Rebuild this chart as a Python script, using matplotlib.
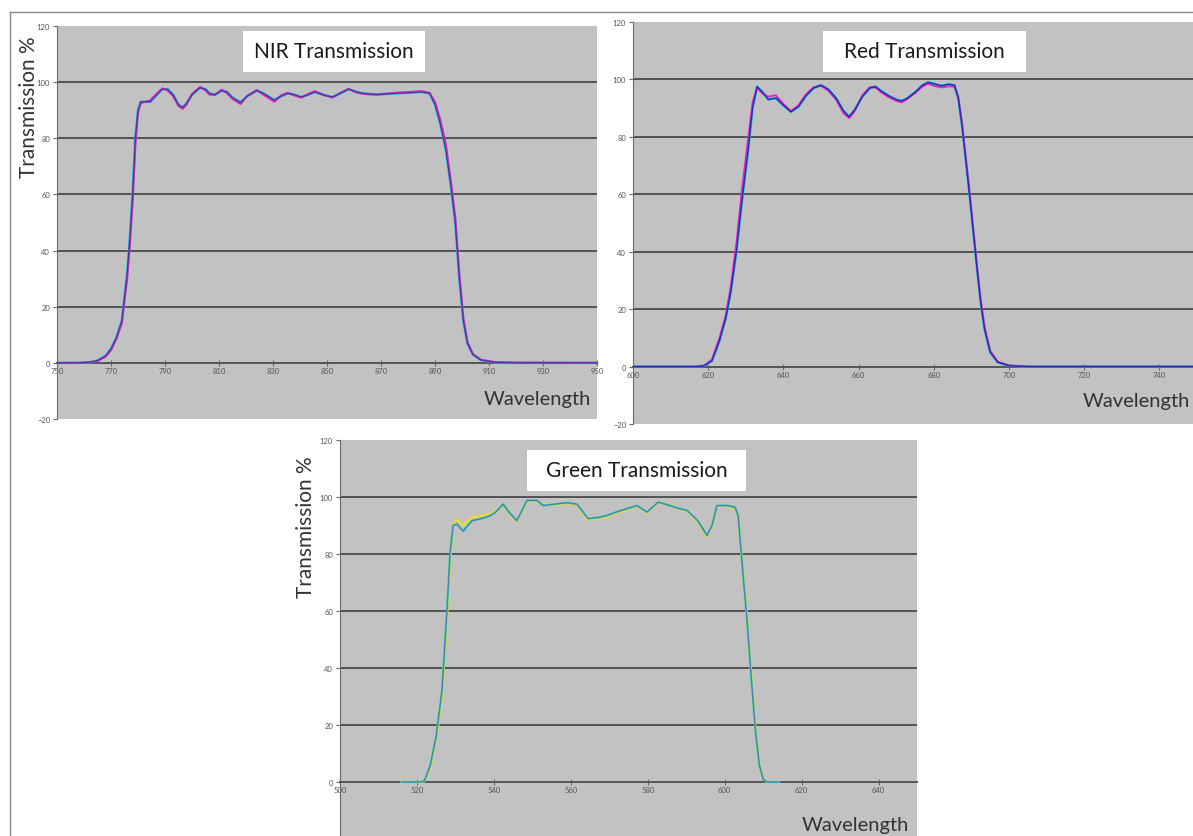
import numpy as np
import matplotlib.pyplot as plt
from matplotlib.patches import Rectangle
from matplotlib.lines import Line2D

plt.rcParams['font.family'] = ['Lato', 'DejaVu Sans']

# NIR filter, two overlapping measurements
nir_nm = [750, 758, 762, 765, 768, 770, 772, 774, 776, 777,
          778, 779, 780, 781, 782.5, 784.5, 786.5, 789, 791, 793, 795,
          796.5, 798, 800, 803, 805, 806.5, 808.5, 811, 813, 815,
          818, 820.5, 824, 826.5, 830.5, 833, 835.5, 838, 840.5, 843,
          845.5, 848.5, 852, 855, 858, 861, 863.5, 866, 868.5, 872,
          876, 880, 885, 888, 890, 892, 894, 896, 897.5, 899,
          900.5, 902, 904, 907, 912, 920, 950]
nir_a = [0, 0, 0.2, 0.8, 2.5, 5, 9, 15, 32, 45,
         60, 80, 90, 93, 93, 93, 95, 97.5, 97.5, 95.5, 92,
         91, 92.5, 95.5, 98, 97.5, 96, 95.5, 97, 96.5, 94.5,
         92.8, 95, 97, 96, 93.6, 95, 96, 95.5, 94.7, 95.5,
         96.5, 95.5, 94.7, 96, 97.5, 96.5, 96, 95.8, 95.6, 95.8,
         96, 96.2, 96.5, 96, 92, 85, 76, 62, 50, 30,
         15, 7, 3, 1, 0.2, 0, 0]
nir_b = [0, 0, 0.2, 0.7, 2.2, 4.5, 8.5, 14, 30, 42,
         57, 77, 89, 92.5, 93, 93.5, 95.5, 97.8, 97, 95, 91.5,
         90.5, 92, 95.8, 98.3, 97, 95.5, 95.5, 97.3, 96, 94,
         92.2, 95.2, 97.2, 95.5, 93, 95.3, 96.2, 95.2, 94.5, 95.8,
         96.8, 95.5, 94.5, 96.2, 97.6, 96.3, 95.8, 95.6, 95.5, 95.9,
         96.3, 96.5, 96.8, 96.2, 93, 86.5, 78, 64, 52, 32,
         16, 7.5, 3.2, 1.1, 0.3, 0.1, 0]

# Red filter
red_nm = [600, 612, 617, 619, 621, 623, 624.7, 626, 627.5, 629,
          630.5, 631.8, 633, 634.5, 636, 638, 640, 642, 644, 646,
          648, 650, 652, 654, 656, 657.5, 659, 661, 663, 664.5,
          666, 668, 670, 671.5, 673, 675, 677, 678.5, 680, 682,
          684, 685.5, 686.5, 687.5, 688.5, 689.5, 690.5, 691.5, 692.5, 693.5,
          695, 697, 700, 705, 750]
red_a = [0, 0, 0, 0.3, 2, 9, 17, 26, 40, 58,
         74, 90, 97.5, 95.5, 93, 93.5, 91, 88.7, 90.5, 94.3,
         97, 98, 96.5, 93.5, 89, 87, 89.5, 94, 97, 97.5,
         96, 94.3, 93, 92.5, 93.5, 95.5, 98, 99, 98.5, 97.8,
         98.3, 98, 93.5, 84, 72, 60, 47, 34, 22, 13,
         5, 1.5, 0.3, 0, 0]
red_b = [0, 0, 0, 0.4, 2.5, 10, 18, 28, 43, 62,
         78, 92, 97, 95, 94, 94.5, 91.5, 89, 91, 94.8,
         97.3, 97.8, 96, 93, 88.2, 86.5, 89, 94.5, 97.3, 97.2,
         95.5, 93.8, 92.5, 92, 93.2, 95.2, 97.5, 98.5, 97.8, 97.2,
         97.6, 97.5, 94, 85, 73, 61, 48, 35, 23, 14,
         5.5, 1.7, 0.4, 0, 0]

# Green filter
grn_nm = [516, 521, 522, 523.5, 525, 526.5, 527.8, 528.6, 529.4, 530.4,
          532, 534.3, 537, 539, 540.3, 542.4, 544, 546, 548.6, 551.2,
          552.8, 556.4, 559, 561.6, 563, 564.5, 567, 569.4, 572, 574.6,
          577.2, 579.8, 582.7, 585.8, 588, 590.2, 593, 595.4, 596.7, 598,
          600.6, 602.7, 603.5, 604.8, 605.8, 607, 608, 609, 610, 611,
          614]
grn_a = [0, 0, 0.5, 6, 16, 32, 60, 80, 90, 90.5,
         88, 91.7, 92.5, 93.4, 94.5, 97.5, 94.5, 91.7, 98.8, 98.8,
         97, 97.6, 98, 97.5, 95, 92.4, 92.8, 93.5, 94.8, 95.9,
         97, 94.7, 98.2, 97, 96, 95.3, 91.7, 86.5, 89.9, 97,
         97, 96.4, 93.5, 72.5, 57, 35, 18, 6, 1, 0,
         0]
grn_b = [0, 0, 0.4, 5, 15, 30, 57, 78, 90.5, 92,
         90, 93, 93.5, 94, 95, 97.2, 94, 91.5, 98.5, 98.5,
         97.3, 97.2, 97.8, 97.2, 94.5, 92, 92.5, 93, 94.5, 95.5,
         96.8, 94.5, 98, 97.2, 95.8, 95, 91.2, 86, 89.5, 96.8,
         96.8, 96, 93, 73, 58, 36, 19, 6.5, 1.2, 0,
         0]

W, H = 1193, 837
fig = plt.figure(figsize=(W / 100, H / 100), dpi=100)


def fx(x):
    return x / W


def fy(y):
    return 1 - y / H


def px_box(x0, y0, x1, y1):
    return [fx(x0), fy(y1), (x1 - x0) / W, (y1 - y0) / H]


def panel(box, nm, series, colors, widths, xlim, xticks):
    ax = fig.add_axes(box)
    ax.set_facecolor('#c2c2c2')
    for g in (20, 40, 60, 80, 100):
        ax.axhline(g, color='#4a4a4a', lw=1.3, zorder=1)
    for vals, c, lw in zip(series, colors, widths):
        ax.plot(nm, vals, color=c, lw=lw, zorder=3)
    ax.set_xlim(*xlim)
    ax.set_ylim(-20, 120)
    ax.set_yticks(range(-20, 121, 20))
    ax.set_xticks(xticks)
    ax.spines['bottom'].set_position(('data', 0))
    ax.spines['bottom'].set_color('#555555')
    ax.spines['bottom'].set_linewidth(1.4)
    ax.spines['left'].set_color('#6a6a6a')
    ax.spines['top'].set_visible(False)
    ax.spines['right'].set_visible(False)
    ax.tick_params(axis='y', direction='out', length=3, width=0.8, color='#6a6a6a',
                   labelsize=5.5, labelcolor='#555555', pad=2)
    ax.tick_params(axis='x', direction='inout', length=4, width=0.8, color='#6a6a6a',
                   labelsize=5.5, labelcolor='#555555', pad=1)
    return ax


panel(px_box(57, 27, 597, 420), nir_nm, [nir_a, nir_b, nir_a],
      ['#00c8d8', '#e020c0', '#4a3aa0'], [1.8, 1.4, 0.9],
      (750, 950), range(750, 951, 20))
panel(px_box(633, 23, 1197, 425), red_nm, [red_a, red_b, red_a],
      ['#00c8d8', '#e020c0', '#2a2ab0'], [1.8, 1.3, 1.0],
      (600, 750), range(600, 741, 20))
panel(px_box(340, 441, 917, 840), grn_nm, [grn_b, grn_a, grn_a],
      ['#e8d840', '#30c8c8', '#4a7aa0'], [1.8, 1.5, 0.7],
      (500, 650), range(500, 641, 20))

# title boxes
titles = [('NIR Transmission', 243, 32, 425, 73),
          ('Red Transmission', 823, 32, 1026, 73),
          ('Green Transmission', 527, 451, 746, 492)]
for txt, x0, y0, x1, y1 in titles:
    fig.add_artist(Rectangle((fx(x0), fy(y1)), (x1 - x0) / W, (y1 - y0) / H,
                             transform=fig.transFigure, facecolor='white',
                             edgecolor='none', zorder=5))
    fig.text(fx((x0 + x1) / 2), fy((y0 + y1) / 2), txt, ha='center', va='center',
             fontsize=15, color='#1a1a1a', zorder=6)

for x, y in [(537, 400), (1136, 402), (855, 826)]:
    fig.text(fx(x), fy(y), 'Wavelength', ha='center', va='center',
             fontsize=14.5, color='#333333', zorder=6)

for x, y in [(29, 107), (306, 527)]:
    fig.text(fx(x), fy(y), 'Transmission %', ha='center', va='center',
             rotation=90, fontsize=15, color='#333333', zorder=6)

# slide frame
fig.add_artist(Line2D([fx(10), fx(10)], [0, fy(13)], transform=fig.transFigure,
                      color='#8a8a8a', lw=1))
fig.add_artist(Line2D([fx(10), 1], [fy(13), fy(13)], transform=fig.transFigure,
                      color='#8a8a8a', lw=1))

fig.savefig('out.png', dpi=100)
